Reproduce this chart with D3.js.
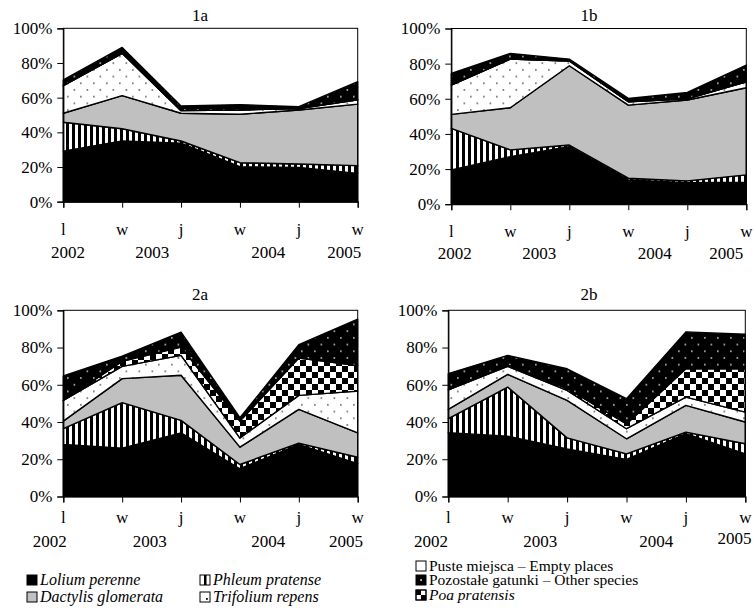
<!DOCTYPE html>
<html>
<head>
<meta charset="utf-8">
<script src="https://cdn.jsdelivr.net/npm/d3@7"></script>
<style>
  body { margin: 0; background: #fff; }
  svg { display: block; font-family: "Liberation Serif", "Times New Roman", serif; }
</style>
</head>
<body>
<svg id="chart" width="754" height="613"></svg>
<script>
// Share of species in the sward (%), stacked: seasons l/w/j over 2002-2005

// -----------------------------------------------------------------------------
// DATA
// -----------------------------------------------------------------------------

const SEASONS = ['l', 'w', 'j', 'w', 'j', 'w'];
const YEARS = ['2002', '2003', '2004', '2005'];
const KEYS = ['lolium', 'phleum', 'dactylis', 'trifolium', 'poa', 'other'];

// 1a
const A1_LOLIUM    = [29.2, 35.0, 33.7, 20.2, 19.8, 16.3];
const A1_PHLEUM    = [16.6,  7.1,  1.3,  2.3,  1.9,  4.5];
const A1_DACTYLIS  = [ 5.2, 19.1, 16.0, 27.9, 31.2, 35.5];
const A1_TRIFOLIUM = [15.9, 24.4,  1.5,  2.5,  0.8,  2.4];
const A1_POA       = [ 0,    0,    0,    0,    0,    0  ];
const A1_OTHER     = [ 3.3,  3.4,  2.7,  3.1,  1.1, 10.5];

// 1b
const B1_LOLIUM    = [19.5, 27.1, 32.8, 13.8, 12.3, 12.5];
const B1_PHLEUM    = [23.7,  3.8,  0.9,  1.0,  1.0,  4.2];
const B1_DACTYLIS  = [ 7.9, 24.0, 45.1, 41.6, 46.0, 49.6];
const B1_TRIFOLIUM = [16.7, 27.7,  2.7,  1.9,  0.7,  3.4];
const B1_POA       = [ 0,    0,    0,    0,    0,    0  ];
const B1_OTHER     = [ 6.6,  3.2,  1.1,  1.9,  3.6,  9.5];

// 2a
const A2_LOLIUM    = [28.0, 26.0, 34.2, 14.9, 28.0, 17.6];
const A2_PHLEUM    = [ 8.4, 24.4,  6.7,  2.3,  0.7,  3.5];
const A2_DACTYLIS  = [ 4.1, 12.9, 24.2,  9.3, 18.1, 13.1];
const A2_TRIFOLIUM = [11.1,  6.6, 10.7,  4.9,  7.5, 22.4];
const A2_POA       = [ 0,    2.7,  4.5,  9.1, 20.1, 13.7];
const A2_OTHER     = [13.1,  2.8,  7.9,  1.8,  7.1, 24.9];

// 2b
const B2_LOLIUM    = [34.2, 32.4, 25.6, 19.9, 33.7, 22.9];
const B2_PHLEUM    = [ 7.6, 26.4,  5.9,  3.0,  0.9,  5.4];
const B2_DACTYLIS  = [ 5.0,  6.8, 20.1,  8.1, 14.3, 11.7];
const B2_TRIFOLIUM = [10.5,  4.3,  5.4,  5.4,  4.5,  5.3];
const B2_POA       = [ 0,    0.6,  1.0,  2.6, 15.2, 23.3];
const B2_OTHER     = [ 8.7,  5.3, 10.6, 13.5, 19.8, 18.5];

const Y_TICKS = [0, 0.2, 0.4, 0.6, 0.8, 1];

// -----------------------------------------------------------------------------
// LAYOUT
// -----------------------------------------------------------------------------

const PANELS = [
  { title: '1a', cols: [A1_LOLIUM, A1_PHLEUM, A1_DACTYLIS, A1_TRIFOLIUM, A1_POA, A1_OTHER],
    left: 63.3, top: 28.3, right: 357.7, bottom: 201.7, titleX: 200, titleY: 21,
    seasonY: 235, yearY: 258, yearAt: [0.08, 1.51, 3.48, 4.77], yearDy: [0, 0, 0, 0] },
  { title: '1b', cols: [B1_LOLIUM, B1_PHLEUM, B1_DACTYLIS, B1_TRIFOLIUM, B1_POA, B1_OTHER],
    left: 451.3, top: 28.5, right: 746.3, bottom: 204.2, titleX: 589, titleY: 21,
    seasonY: 237, yearY: 259, yearAt: [0.06, 1.49, 3.45, 4.66], yearDy: [0, 0, 0, 0] },
  { title: '2a', cols: [A2_LOLIUM, A2_PHLEUM, A2_DACTYLIS, A2_TRIFOLIUM, A2_POA, A2_OTHER],
    left: 63.3, top: 310.3, right: 357.7, bottom: 496.5, titleX: 200, titleY: 300,
    seasonY: 523, yearY: 547, yearAt: [-0.23, 1.47, 3.48, 4.8], yearDy: [0, 0, 0, 0] },
  { title: '2b', cols: [B2_LOLIUM, B2_PHLEUM, B2_DACTYLIS, B2_TRIFOLIUM, B2_POA, B2_OTHER],
    left: 448.3, top: 310.3, right: 745.3, bottom: 496.5, titleX: 589, titleY: 300,
    seasonY: 523, yearY: 547, yearAt: [-0.29, 1.55, 3.5, 4.82], yearDy: [0, 0, 0, -3] }
];

const FILLS = {
  lolium: '#000',
  phleum: 'url(#pat-phleum)',
  dactylis: '#c0c0c0',
  trifolium: 'url(#pat-trifolium)',
  poa: 'url(#pat-poa)',
  other: 'url(#pat-other)'
};

const svg = d3.select('#chart');

// -----------------------------------------------------------------------------
// PATTERNS
// -----------------------------------------------------------------------------

const defs = svg.append('defs');

let p = defs.append('pattern').attr('id', 'pat-phleum')
  .attr('patternUnits', 'userSpaceOnUse').attr('width', 6).attr('height', 6);
p.append('rect').attr('width', 6).attr('height', 6).attr('fill', '#fff');
p.append('rect').attr('x', 0).attr('width', 3).attr('height', 6).attr('fill', '#000');

p = defs.append('pattern').attr('id', 'pat-trifolium')
  .attr('patternUnits', 'userSpaceOnUse').attr('width', 13).attr('height', 13.4);
p.append('rect').attr('width', 13).attr('height', 13.4).attr('fill', '#fff');
p.append('rect').attr('x', 2).attr('y', 2).attr('width', 1.7).attr('height', 1.7).attr('fill', '#777');
p.append('rect').attr('x', 8.5).attr('y', 8.7).attr('width', 1.7).attr('height', 1.7).attr('fill', '#777');

p = defs.append('pattern').attr('id', 'pat-other')
  .attr('patternUnits', 'userSpaceOnUse').attr('width', 13).attr('height', 13.4);
p.append('rect').attr('width', 13).attr('height', 13.4).attr('fill', '#000');
p.append('rect').attr('x', 2).attr('y', 2).attr('width', 1.7).attr('height', 1.7).attr('fill', '#aaa');
p.append('rect').attr('x', 8.5).attr('y', 8.7).attr('width', 1.7).attr('height', 1.7).attr('fill', '#aaa');

p = defs.append('pattern').attr('id', 'pat-poa')
  .attr('patternUnits', 'userSpaceOnUse').attr('width', 12).attr('height', 12);
p.append('rect').attr('width', 12).attr('height', 12).attr('fill', '#fff');
p.append('rect').attr('width', 6).attr('height', 6).attr('fill', '#000');
p.append('rect').attr('x', 6).attr('y', 6).attr('width', 6).attr('height', 6).attr('fill', '#000');

// -----------------------------------------------------------------------------
// PANELS
// -----------------------------------------------------------------------------

function drawPanel(cfg) {
  const rows = SEASONS.map((s, i) => {
    const r = { i };
    KEYS.forEach((k, j) => { r[k] = cfg.cols[j][i]; });
    return r;
  });
  const series = d3.stack().keys(KEYS)(rows);

  const x = d3.scaleLinear().domain([0, SEASONS.length - 1]).range([cfg.left, cfg.right]);
  const y = d3.scaleLinear().domain([0, 1]).range([cfg.bottom, cfg.top]);

  const g = svg.append('g');

  const area = d3.area()
    .x(d => x(d.data.i))
    .y0(d => y(d[0] / 100))
    .y1(d => y(d[1] / 100));

  g.selectAll('path.layer')
    .data(series)
    .join('path')
    .attr('class', 'layer')
    .attr('d', area)
    .attr('fill', d => FILLS[d.key])
    .attr('stroke', '#000')
    .attr('stroke-width', 1.4)
    .attr('stroke-linejoin', 'round');

  // frame
  g.append('rect')
    .attr('x', cfg.left).attr('y', cfg.top)
    .attr('width', cfg.right - cfg.left).attr('height', cfg.bottom - cfg.top)
    .attr('fill', 'none').attr('stroke', '#000').attr('stroke-width', 1);

  // y axis
  const ya = g.append('g')
    .attr('transform', `translate(${cfg.left},0)`)
    .call(d3.axisLeft(y).tickValues(Y_TICKS).tickFormat(d3.format('.0%')).tickSize(6).tickPadding(5));
  ya.select('.domain').attr('stroke-width', 1.2);
  ya.selectAll('text').attr('font-size', 17).attr('font-family', '"Liberation Serif", serif').attr('fill', '#000');

  // x axis (ticks only, labels drawn below)
  const xa = g.append('g')
    .attr('transform', `translate(0,${cfg.bottom})`)
    .call(d3.axisBottom(x).tickValues(d3.range(SEASONS.length)).tickFormat('').tickSize(6));
  xa.select('.domain').attr('stroke-width', 1.2);

  g.selectAll('text.season')
    .data(SEASONS)
    .join('text')
    .attr('class', 'season')
    .attr('x', (d, i) => x(i))
    .attr('y', cfg.seasonY)
    .attr('text-anchor', 'middle')
    .attr('font-size', 17)
    .text(d => d);

  g.selectAll('text.year')
    .data(YEARS)
    .join('text')
    .attr('class', 'year')
    .attr('x', (d, i) => x(cfg.yearAt[i]))
    .attr('y', (d, i) => cfg.yearY + cfg.yearDy[i])
    .attr('text-anchor', 'middle')
    .attr('font-size', 17)
    .text(d => d);

  g.append('text')
    .attr('x', cfg.titleX).attr('y', cfg.titleY)
    .attr('text-anchor', 'middle')
    .attr('font-size', 17)
    .text(cfg.title);
}

PANELS.forEach(drawPanel);

// -----------------------------------------------------------------------------
// LEGEND
// -----------------------------------------------------------------------------

const LEGEND = [
  { key: 'lolium',    label: 'Lolium perenne',                     italic: true,  x: 27,  y: 580, size: 16 },
  { key: 'dactylis',  label: 'Dactylis glomerata',                 italic: true,  x: 27,  y: 597, size: 16 },
  { key: 'phleum',    label: 'Phleum pratense',                    italic: true,  x: 200, y: 580, size: 16 },
  { key: 'trifolium', label: 'Trifolium repens',                   italic: true,  x: 200, y: 597, size: 16 },
  { key: 'empty',     label: 'Puste miejsca \u2013 Empty places',  italic: false, x: 416, y: 566, size: 15.5 },
  { key: 'other',     label: 'Pozosta\u0142e gatunki \u2013 Other species', italic: false, x: 416, y: 580, size: 15.5 },
  { key: 'poa',       label: 'Poa pratensis',                      italic: true,  x: 416, y: 595, size: 15.5 }
];

function legendIcon(g, key) {
  const s = 10;
  const bg = key === 'lolium' || key === 'other' ? '#000' : key === 'dactylis' ? '#c0c0c0' : '#fff';
  g.append('rect').attr('width', s).attr('height', s).attr('fill', bg).attr('stroke', '#000').attr('stroke-width', 1);
  if (key === 'phleum') {
    g.append('rect').attr('x', 4).attr('y', 0).attr('width', 2.5).attr('height', s).attr('fill', '#000');
  } else if (key === 'trifolium') {
    g.append('rect').attr('x', 6).attr('y', 6).attr('width', 1.8).attr('height', 1.8).attr('fill', '#000');
  } else if (key === 'other') {
    g.append('rect').attr('x', 4.2).attr('y', 4.2).attr('width', 1.8).attr('height', 1.8).attr('fill', '#ccc');
  } else if (key === 'poa') {
    g.append('rect').attr('width', 5).attr('height', 5).attr('fill', '#000');
    g.append('rect').attr('x', 5).attr('y', 5).attr('width', 5).attr('height', 5).attr('fill', '#000');
    g.append('rect').attr('width', s).attr('height', s).attr('fill', 'none').attr('stroke', '#000');
  }
}

LEGEND.forEach(item => {
  const g = svg.append('g').attr('transform', `translate(${item.x},${item.y - 5})`);
  legendIcon(g, item.key);
  g.append('text')
    .attr('x', 13)
    .attr('y', 10)
    .attr('font-size', item.size)
    .attr('font-style', item.italic ? 'italic' : 'normal')
    .text(item.label);
});
</script>
</body>
</html>
